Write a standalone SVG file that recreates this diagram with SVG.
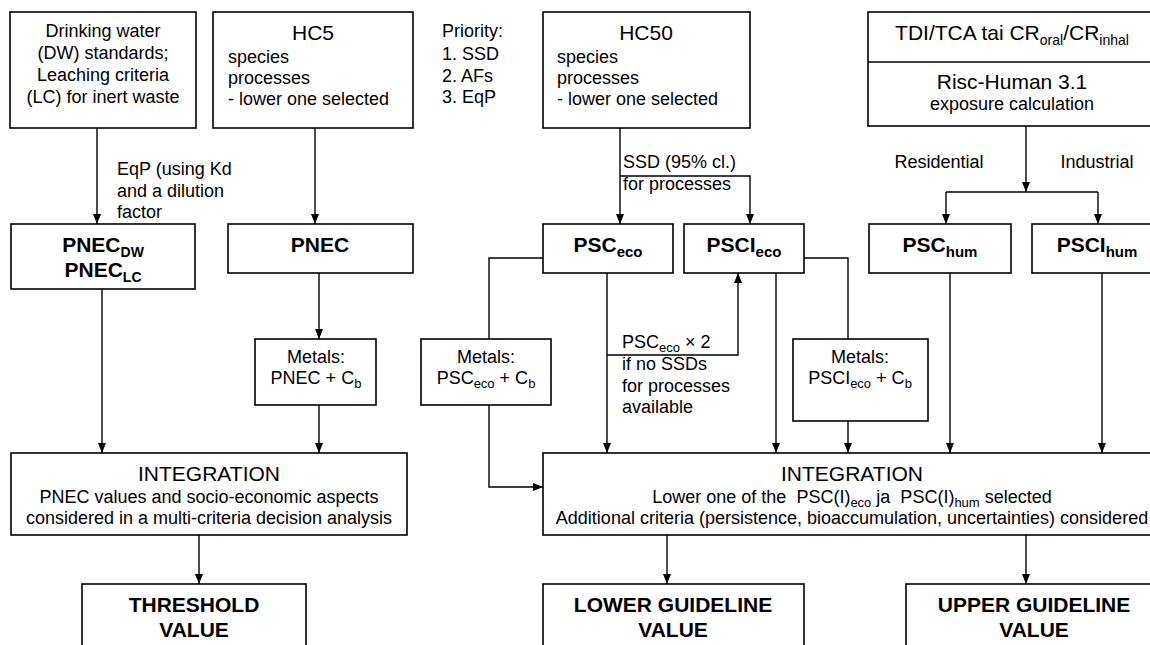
<svg xmlns="http://www.w3.org/2000/svg" width="1150" height="645" viewBox="0 0 1150 645">
<defs>
<marker id="arr" viewBox="0 0 10 8" refX="10" refY="4" markerWidth="10" markerHeight="8" markerUnits="userSpaceOnUse" orient="auto">
<path d="M0,0 L10,4 L0,8 z" fill="#000"/>
</marker>
<style>
.box{fill:#fff;stroke:#000;stroke-width:1.6}
.t{font-family:"Liberation Sans",Arial,sans-serif;font-size:18px;fill:#000}
.h{font-family:"Liberation Sans",Arial,sans-serif;font-size:21px;fill:#000}
.b{font-family:"Liberation Sans",Arial,sans-serif;font-size:21px;font-weight:bold;fill:#000}
.c{text-anchor:middle}
.ln{fill:none;stroke:#000;stroke-width:1.4}
.ar{marker-end:url(#arr)}
</style>
</defs>
<rect width="1150" height="645" fill="#fff"/>

<g id="connectors">
<path class="ln ar" d="M97,128 V224"/>
<path class="ln ar" d="M315,128 V224"/>
<path class="ln ar" d="M620,128 V224"/>
<path class="ln ar" d="M620,176 H750 V224"/>
<path class="ln ar" d="M1026,126 V192"/>
<path class="ln" d="M946,192 H1098"/>
<path class="ln ar" d="M946,192 V224"/>
<path class="ln ar" d="M1098,192 V224"/>
<path class="ln ar" d="M102,289 V453"/>
<path class="ln ar" d="M319,273 V339"/>
<path class="ln ar" d="M319,405 V453"/>
<path class="ln" d="M543,258 H489 V339"/>
<path class="ln ar" d="M489,405 V487 H543"/>
<path class="ln ar" d="M607,273 V453"/>
<path class="ln ar" d="M607,355 H738 V273"/>
<path class="ln ar" d="M776,273 V453"/>
<path class="ln" d="M804,258 H848 V339"/>
<path class="ln ar" d="M848,421 V453"/>
<path class="ln ar" d="M950,273 V453"/>
<path class="ln ar" d="M1102,273 V453"/>
<path class="ln ar" d="M199,535 V584"/>
<path class="ln ar" d="M667,535 V584"/>
<path class="ln ar" d="M1026,535 V584"/>
<text class="t" x="117" y="175">EqP (using Kd</text>
<text class="t" x="117" y="197">and a dilution</text>
<text class="t" x="117" y="218">factor</text>
<text class="t" x="623" y="168">SSD (95% cl.)</text>
<text class="t" x="623" y="190">for processes</text>
<text class="t c" x="939" y="168">Residential</text>
<text class="t c" x="1097" y="168">Industrial</text>
<text class="t" x="622" y="348">PSC<tspan font-size="13" dy="4">eco</tspan><tspan dy="-4"> × 2</tspan></text>
<text class="t" x="622" y="370">if no SSDs</text>
<text class="t" x="622" y="392">for processes</text>
<text class="t" x="622" y="413">available</text>
</g>

<g id="priority">
<text class="t" x="442" y="37">Priority:</text>
<text class="t" x="442" y="60">1. SSD</text>
<text class="t" x="442" y="82">2. AFs</text>
<text class="t" x="442" y="103">3. EqP</text>
</g>

<g id="dw">
<rect class="box" x="10" y="12" width="186" height="116"/>
<text class="t c" x="103" y="37">Drinking water</text>
<text class="t c" x="103" y="59">(DW) standards;</text>
<text class="t c" x="103" y="81">Leaching criteria</text>
<text class="t c" x="103" y="103">(LC) for inert waste</text>
</g>

<g id="hc5">
<rect class="box" x="213" y="12" width="200" height="116"/>
<text class="h c" x="313" y="40" font-size="22">HC5</text>
<text class="t" x="228" y="63">species</text>
<text class="t" x="228" y="84">processes</text>
<text class="t" x="228" y="105">- lower one selected</text>
</g>

<g id="hc50">
<rect class="box" x="543" y="12" width="207" height="116"/>
<text class="h c" x="646" y="40" font-size="22">HC50</text>
<text class="t" x="557" y="63">species</text>
<text class="t" x="557" y="84">processes</text>
<text class="t" x="557" y="105">- lower one selected</text>
</g>

<g id="tdi">
<rect class="box" x="868" y="12" width="292" height="114"/>
<line x1="868" y1="62" x2="1160" y2="62" stroke="#000" stroke-width="1.6"/>
<text class="h c" x="1012" y="40">TDI/TCA tai CR<tspan font-size="14" dy="5">oral</tspan><tspan dy="-5">/CR</tspan><tspan font-size="14" dy="5">inhal</tspan></text>
<text class="h c" x="1012" y="89">Risc-Human 3.1</text>
<text class="t c" x="1012" y="110">exposure calculation</text>
</g>

<g id="pnecdw">
<rect class="box" x="11" y="224" width="184" height="65"/>
<text class="b c" x="103" y="252">PNEC<tspan font-size="14" dy="5">DW</tspan></text>
<text class="b c" x="103" y="277">PNEC<tspan font-size="14" dy="5">LC</tspan></text>
</g>

<g id="pnec">
<rect class="box" x="228" y="224" width="185" height="49"/>
<text class="b c" x="320" y="252">PNEC</text>
</g>

<g id="psceco">
<rect class="box" x="543" y="224" width="130" height="49"/>
<text class="b c" x="608" y="252">PSC<tspan font-size="15" dy="5">eco</tspan></text>
</g>

<g id="pscieco">
<rect class="box" x="684" y="224" width="120" height="49"/>
<text class="b c" x="744" y="252">PSCI<tspan font-size="15" dy="5">eco</tspan></text>
</g>

<g id="pschum">
<rect class="box" x="869" y="224" width="142" height="49"/>
<text class="b c" x="940" y="252">PSC<tspan font-size="15" dy="5">hum</tspan></text>
</g>

<g id="pscihum">
<rect class="box" x="1032" y="224" width="128" height="49"/>
<text class="b c" x="1097" y="252">PSCI<tspan font-size="15" dy="5">hum</tspan></text>
</g>

<g id="metals-pnec">
<rect class="box" x="255" y="339" width="121" height="66"/>
<text class="t c" x="316" y="363">Metals:</text>
<text class="t c" x="316" y="384">PNEC + C<tspan font-size="13" dy="4">b</tspan></text>
</g>

<g id="metals-psceco">
<rect class="box" x="421" y="339" width="130" height="66"/>
<text class="t c" x="486" y="363">Metals:</text>
<text class="t c" x="486" y="384">PSC<tspan font-size="13" dy="4">eco</tspan><tspan dy="-4"> + C</tspan><tspan font-size="13" dy="4">b</tspan></text>
</g>

<g id="metals-pscieco">
<rect class="box" x="793" y="339" width="135" height="82"/>
<text class="t c" x="860" y="363">Metals:</text>
<text class="t c" x="860" y="384">PSCI<tspan font-size="13" dy="4">eco</tspan><tspan dy="-4"> + C</tspan><tspan font-size="13" dy="4">b</tspan></text>
</g>

<g id="integration-left">
<rect class="box" x="11" y="453" width="396" height="82"/>
<text class="h c" x="209" y="481">INTEGRATION</text>
<text class="t c" x="209" y="503">PNEC values and socio-economic aspects</text>
<text class="t c" x="209" y="524">considered in a multi-criteria decision analysis</text>
</g>

<g id="integration-right">
<rect class="box" x="543" y="453" width="617" height="82"/>
<text class="h c" x="852" y="481">INTEGRATION</text>
<text class="t c" x="852" y="503" xml:space="preserve">Lower one of the  PSC(I)<tspan font-size="13" dy="4">eco</tspan><tspan dy="-4"> ja  PSC(I)</tspan><tspan font-size="13" dy="4">hum</tspan><tspan dy="-4"> selected</tspan></text>
<text class="t c" x="852" y="524">Additional criteria (persistence, bioaccumulation, uncertainties) considered</text>
</g>

<g id="threshold">
<rect class="box" x="82" y="584" width="224" height="80"/>
<text class="b c" x="194" y="612">THRESHOLD</text>
<text class="b c" x="194" y="637">VALUE</text>
</g>

<g id="lower">
<rect class="box" x="543" y="584" width="261" height="80"/>
<text class="b c" x="673" y="612">LOWER GUIDELINE</text>
<text class="b c" x="673" y="637">VALUE</text>
</g>

<g id="upper">
<rect class="box" x="906" y="584" width="254" height="80"/>
<text class="b c" x="1034" y="612">UPPER GUIDELINE</text>
<text class="b c" x="1034" y="637">VALUE</text>
</g>
</svg>
